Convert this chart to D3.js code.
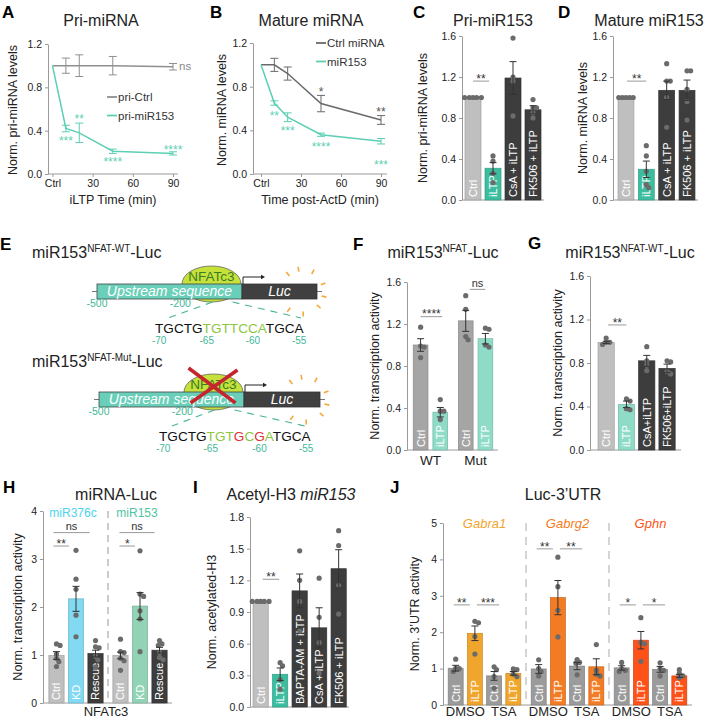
<!DOCTYPE html>
<html>
<head>
<meta charset="utf-8">
<script src="https://cdn.jsdelivr.net/npm/d3@7"></script>
<style>
  body { margin: 0; background: #fff; }
  svg { display: block; font-family: "Liberation Sans", Arial, Helvetica, sans-serif; }
</style>
</head>
<body>
<script>
// ---------- data ----------
// A, B: time courses (min after iLTP / ActD)
const timePts = [0, 10, 20, 45, 90];
const timeTicks = [0, 30, 60, 90];
const priCtrlMean = [1.0, 1.0, 1.0, 1.0, 0.99];
const priCtrlSem = [0, 0.07, 0.1, 0.085, 0.03];
const priMiR153Mean = [1.0, 0.42, 0.38, 0.21, 0.19];
const priMiR153Sem = [0, 0.03, 0.09, 0.02, 0.015];
const starsA = [
  { t: 10, v: 0.33, s: "***", teal: true },
  { t: 20, v: 0.53, s: "**", teal: true },
  { t: 45, v: 0.14, s: "****", teal: true },
  { t: 90, v: 0.25, s: "****", teal: true }
];
const ctrlMiRNAMean = [1.0, 1.0, 0.92, 0.645, 0.495];
const ctrlMiRNASem = [0, 0.06, 0.06, 0.075, 0.04];
const matMiR153Mean = [1.0, 0.65, 0.52, 0.36, 0.30];
const matMiR153Sem = [0, 0.02, 0.04, 0.015, 0.025];
const starsB = [
  { t: 45, v: 0.78, s: "*", teal: false },
  { t: 90, v: 0.59, s: "**", teal: false },
  { t: 10, v: 0.56, s: "**", teal: true },
  { t: 20, v: 0.42, s: "***", teal: true },
  { t: 45, v: 0.27, s: "****", teal: true },
  { t: 90, v: 0.11, s: "***", teal: true }
];

// C: Pri-miR153
const catsC = ["Ctrl", "iLTP", "CsA + iLTP", "FK506 + iLTP"];
const meanC = [1.0, 0.31, 1.19, 0.88];
const semC = [0, 0.055, 0.16, 0.04];
const dotsC = [[1, 1, 1, 1, 1], [0.43, 0.38, 0.26, 0.17], [1.58, 1.2, 1.16, 0.82], [0.98, 0.9, 0.9, 0.85, 0.8]];

// D: Mature miR153
const catsD = ["Ctrl", "iLTP", "CsA + iLTP", "FK506 + iLTP"];
const meanD = [1.0, 0.30, 1.07, 1.07];
const semD = [0, 0.08, 0.09, 0.1];
const dotsD = [[1, 1, 1, 1, 1], [0.53, 0.43, 0.28, 0.15, 0.12], [1.33, 1.16, 1.16, 1.0, 0.71], [1.26, 1.26, 1.08, 0.96, 0.78]];

// E: reporter constructs
const seqWT = "TGCTGTGTTCCATGCA";
const seqMut = "TGCTGTGTGCGATGCA";
const maskWT = "kkkkkgggggggkkkk";
const maskMut = "kkkkkgggrgrgkkkk";
const seqPosLabels = ["-70", "-65", "-60", "-55"];
const seqPosChars = [0, 5, 10, 15];

// F: miR153-NFAT-Luc
const groupsF = ["WT", "Mut"];
const condsF = ["Ctrl", "iLTP"];
const meanF = [1.0, 0.36, 1.23, 1.06];
const semF = [0.06, 0.045, 0.1, 0.05];
const dotsF = [[1.17, 0.99, 0.98, 0.88], [0.48, 0.37, 0.37, 0.29], [1.47, 1.34, 1.08, 1.05], [1.16, 1.15, 1.0, 0.98]];

// G: miR153-NFAT-WT-Luc
const catsG = ["Ctrl", "iLTP", "CsA+iLTP", "FK506+iLTP"];
const meanG = [0.99, 0.42, 0.82, 0.75];
const semG = [0.01, 0.03, 0.05, 0.04];
const dotsG = [[0.97, 0.99, 0.99, 1.03], [0.47, 0.45, 0.38, 0.37], [0.95, 0.82, 0.78, 0.73], [0.82, 0.81, 0.72, 0.7]];

// H: miRNA-Luc, NFATc3 knock-down
const groupsH = ["miR376c", "miR153"];
const condsH = ["Ctrl", "KD", "Rescue"];
const meanH = [0.99, 2.17, 1.03, 0.99, 2.02, 1.10];
const semH = [0.08, 0.26, 0.07, 0.07, 0.28, 0.06];
const dotsH = [
  [1.2, 1.23, 1.02, 0.93, 0.86, 0.76],
  [3.18, 2.58, 2.37, 1.83, 1.38],
  [1.3, 1.17, 1.15, 0.97, 0.9, 0.75],
  [1.33, 1.07, 1.05, 0.93, 0.88, 0.68],
  [3.17, 2.27, 2.22, 1.92, 1.75, 1.07],
  [1.3, 1.23, 1.2, 1.05, 0.95, 0.9]
];

// I: Acetyl-H3 miR153
const catsI = ["Ctrl", "iLTP", "BAPTA-AM + iLTP", "CsA + iLTP", "FK506 + iLTP"];
const meanI = [1.0, 0.31, 1.10, 0.75, 1.31];
const semI = [0, 0.06, 0.16, 0.19, 0.18];
const dotsI = [[1, 1, 1, 1, 1], [0.42, 0.39, 0.26, 0.17], [1.48, 1.2, 1.0, 0.72], [1.22, 0.85, 0.61, 0.32], [1.67, 1.53, 1.15, 0.88]];

// J: Luc-3'UTR
const genesJ = ["Gabra1", "Gabrg2", "Gphn"];
const condsJ = ["Ctrl", "iLTP", "Ctrl", "iLTP"];
const treatJ = ["DMSO", "TSA"];
const meanJ = [1.01, 1.97, 0.80, 0.87, 0.99, 2.95, 1.07, 1.05, 1.02, 1.78, 0.98, 0.80];
const semJ = [0.08, 0.2, 0.12, 0.05, 0.12, 0.47, 0.1, 0.22, 0.06, 0.24, 0.08, 0.04];
const dotsJ = [
  [1.26, 1.01, 1.0, 0.92], [2.26, 2.3, 1.88, 1.4], [1.05, 0.97, 0.78, 0.46], [0.99, 0.97, 0.85, 0.78],
  [1.24, 1.0, 0.92, 0.8], [4.06, 3.25, 2.6, 1.87], [1.25, 1.17, 1.15, 0.83], [1.66, 0.95, 0.85, 0.8],
  [1.17, 1.0, 0.95, 0.92], [2.4, 1.72, 1.68, 1.2], [1.16, 1.0, 0.95, 0.8], [0.97, 0.87, 0.8, 0.75]
];

// ---------- styles ----------
const AX = "#9a9a9a", TXT = "#222", DOT = "#6b6b6b", ERR = "#333";
const TEAL = "#5ccfb4", TEAL_BAR = "#3dbd9f", TEAL_LT = "#8edcc8";
const GRAY_LT = "#bfbfbf", GRAY_MD = "#a5a5a5", GRAY_J = "#9b9b9b", DARK = "#3d3d3d";
const GENE_COL = ["#f0a52c", "#f37b24", "#ff5219"];

const svg = d3.select("body").append("svg").attr("width", 705).attr("height", 720);

function txt(x, y, s, o = {}) {
  const t = svg.append("text").attr("x", x).attr("y", y)
    .attr("font-size", o.size || 12).attr("fill", o.fill || TXT)
    .attr("text-anchor", o.anchor || "start").text(s);
  if (o.weight) t.attr("font-weight", o.weight);
  if (o.italic) t.attr("font-style", "italic");
  return t;
}
function vtxt(cx, cy, s, size, fill) {
  return svg.append("text").attr("transform", `translate(${cx},${cy}) rotate(-90)`)
    .attr("dy", "0.35em").attr("text-anchor", "middle")
    .attr("font-size", size).attr("fill", fill || TXT).text(s);
}
function letter(x, y, s) { txt(x, y, s, { size: 17, weight: "bold", fill: "#000" }); }
function supTitle(x, y, a, b, c, anchor) {
  const t = svg.append("text").attr("x", x).attr("y", y).attr("font-size", 16)
    .attr("fill", TXT).attr("text-anchor", anchor || "middle");
  t.append("tspan").text(a);
  t.append("tspan").attr("font-size", 10).attr("dy", -6).text(b);
  t.append("tspan").attr("dy", 6).text(c);
}
function styleAxis(g) {
  g.attr("font-family", null).attr("font-size", 10.5);
  g.select(".domain").attr("stroke", AX);
  g.selectAll(".tick line").attr("stroke", AX);
  g.selectAll(".tick text").attr("fill", TXT);
}
function stars(x, yc, s, fill) {
  txt(x, yc + 6.8, s, { size: 12, fill: fill, anchor: "middle" });
}

// ---------- line charts (A, B) ----------
function lineChart(o) {
  const x = d3.scaleLinear().domain([0, 90]).range(o.xr);
  const y = d3.scaleLinear().domain([0, 1.2]).range(o.yr);
  svg.append("g").attr("transform", `translate(${o.axX},0)`)
    .call(d3.axisLeft(y).tickValues([0, 0.4, 0.8, 1.2]).tickFormat(d3.format(".1f")).tickSize(3).tickSizeOuter(0))
    .call(styleAxis);
  svg.append("line").attr("x1", o.axX).attr("x2", o.axEnd).attr("y1", y(0)).attr("y2", y(0)).attr("stroke", AX);
  const xa = svg.append("g").attr("transform", `translate(0,${y(0)})`)
    .call(d3.axisBottom(x).tickValues(timeTicks).tickFormat(d => d === 0 ? "Ctrl" : d).tickSize(3).tickSizeOuter(0))
    .call(styleAxis);
  xa.select(".domain").remove();
  o.series.forEach(s => {
    const pts = timePts.map((t, i) => ({ t, m: s.mean[i], e: s.sem[i] }));
    svg.append("path").datum(pts)
      .attr("d", d3.line().x(d => x(d.t)).y(d => y(d.m)))
      .attr("fill", "none").attr("stroke", s.color).attr("stroke-width", 1.5);
    pts.filter(d => d.e > 0).forEach(d => {
      const g = svg.append("g").attr("stroke", s.color).attr("stroke-width", 1);
      g.append("line").attr("x1", x(d.t)).attr("x2", x(d.t)).attr("y1", y(d.m - d.e)).attr("y2", y(d.m + d.e));
      [d.m - d.e, d.m + d.e].forEach(v => g.append("line")
        .attr("x1", x(d.t) - 4).attr("x2", x(d.t) + 4).attr("y1", y(v)).attr("y2", y(v)));
    });
  });
  o.stars.forEach(d => stars(x(d.t), y(d.v), d.s, d.teal ? TEAL : "#555"));
  o.legend.forEach((l, i) => {
    const ly = o.legY + i * 18.5;
    svg.append("line").attr("x1", o.legX).attr("x2", o.legX + 10).attr("y1", ly).attr("y2", ly)
      .attr("stroke", l.color).attr("stroke-width", 1.8);
    txt(o.legX + 11, ly + 4.3, l.name, { size: 11.5, fill: "#333" });
  });
  return { x, y };
}

// ---------- bar charts ----------
function swarm(vals, y, cx) {
  const placed = [];
  const out = new Array(vals.length);
  const minD = 3.6;
  const order = vals.map((v, i) => i).sort((a, b) => vals[b] - vals[a]);
  order.forEach(i => {
    const py = y(vals[i]);
    let px = cx;
    for (let k = 0; k < 30; k++) {
      const off = k === 0 ? 0 : (k % 2 ? 1 : -1) * Math.ceil(k / 2) * 1.2;
      if (placed.every(p => Math.hypot(p[0] - (cx + off), p[1] - py) >= minD)) { px = cx + off; break; }
    }
    placed.push([px, py]);
    out[i] = [px, py];
  });
  return out;
}

function barPanel(p) {
  const y = d3.scaleLinear().domain([0, p.max]).range([p.y0, p.y1]);
  const gx = d3.scaleBand().domain(p.groups).range(p.xr).paddingInner(p.gpi || 0).paddingOuter(p.gpo || 0);
  const cx = d3.scaleBand().domain(d3.range(p.conds.length)).range([0, gx.bandwidth()])
    .paddingInner(p.pi).paddingOuter(p.po);
  const bw = cx.bandwidth();
  const bars = [];
  p.groups.forEach((g, gi) => p.conds.forEach((c, ci) => {
    const k = gi * p.conds.length + ci;
    bars.push({ x: gx(g) + cx(ci), c, m: p.means[k], e: p.sems[k], dots: p.dots[k], fill: p.fills[k] });
  }));

  svg.append("g").attr("transform", `translate(${p.axX},0)`)
    .call(d3.axisLeft(y).tickValues(p.ticks).tickFormat(p.fmt).tickSize(3).tickSizeOuter(0))
    .call(styleAxis);
  svg.append("line").attr("x1", p.axX).attr("x2", p.axEnd).attr("y1", p.y0).attr("y2", p.y0).attr("stroke", AX);

  bars.forEach(b => {
    const c = b.x + bw / 2;
    svg.append("rect").attr("x", b.x).attr("y", y(b.m)).attr("width", bw).attr("height", y(0) - y(b.m))
      .attr("fill", b.fill).attr("stroke", d3.color(b.fill).darker(0.5)).attr("stroke-width", 0.7);
    svg.append("text").attr("transform", `translate(${c},${p.y0 - 3}) rotate(-90)`)
      .attr("dy", "0.36em").attr("font-size", p.lblSize || 11).attr("fill", "#fff").text(b.c);
    swarm(b.dots, y, c).forEach(d => svg.append("circle").attr("cx", d[0]).attr("cy", d[1]).attr("r", 2.6).attr("fill", DOT));
    if (b.e > 0) {
      const g = svg.append("g").attr("stroke", ERR).attr("stroke-width", 1);
      g.append("line").attr("x1", c).attr("x2", c).attr("y1", y(b.m - b.e)).attr("y2", y(b.m + b.e));
      [b.m - b.e, b.m + b.e].forEach(v => g.append("line").attr("x1", c - 3.5).attr("x2", c + 3.5).attr("y1", y(v)).attr("y2", y(v)));
    }
  });
  const center = k => bars[k].x + bw / 2;
  (p.sig || []).forEach(s => {
    const x1 = center(s.a) + s.da, x2 = center(s.b) + s.db, ly = y(s.v);
    svg.append("line").attr("x1", x1).attr("x2", x2).attr("y1", ly).attr("y2", ly).attr("stroke", "#999").attr("stroke-width", 1);
    if (s.s === "ns") txt((x1 + x2) / 2, ly - 2.5, "ns", { size: 11, fill: "#333", anchor: "middle" });
    else stars((x1 + x2) / 2, ly - 5, s.s, "#333");
  });
  return { y, gx, bars, bw, center };
}

// ---------- A ----------
letter(2, 18, "A");
txt(101, 25.5, "Pri-miRNA", { size: 16, anchor: "middle" });
const pa = lineChart({
  xr: [52.5, 173], yr: [174, 44], axX: 48, axEnd: 178,
  series: [
    { mean: priCtrlMean, sem: priCtrlSem, color: "#8f8f8f" },
    { mean: priMiR153Mean, sem: priMiR153Sem, color: TEAL }
  ],
  stars: starsA,
  legend: [{ name: "pri-Ctrl", color: "#8f8f8f" }, { name: "pri-miR153", color: TEAL }],
  legX: 107, legY: 97
});
txt(pa.x(90) + 6, pa.y(1.0) + 4, "ns", { size: 11.5, fill: "#888" });
txt(113, 204, "iLTP Time (min)", { size: 12.5, anchor: "middle" });
vtxt(13, 110, "Norm. pri-miRNA levels", 12.5);

// ---------- B ----------
letter(210, 18, "B");
txt(311, 25.5, "Mature miRNA", { size: 16, anchor: "middle" });
lineChart({
  xr: [261, 381], yr: [174, 43], axX: 253, axEnd: 387,
  series: [
    { mean: ctrlMiRNAMean, sem: ctrlMiRNASem, color: "#6a6a6a" },
    { mean: matMiR153Mean, sem: matMiR153Sem, color: TEAL }
  ],
  stars: starsB,
  legend: [{ name: "Ctrl miRNA", color: "#6a6a6a" }, { name: "miR153", color: TEAL }],
  legX: 316, legY: 43
});
txt(320, 204, "Time post-ActD (min)", { size: 12.5, anchor: "middle" });
vtxt(222, 110, "Norm. miRNA levels", 12.5);

// ---------- C ----------
letter(413, 18, "C");
txt(493, 25.5, "Pri-miR153", { size: 16, anchor: "middle" });
barPanel({
  groups: [""], conds: catsC, means: meanC, sems: semC, dots: dotsC,
  fills: [GRAY_LT, TEAL_BAR, DARK, DARK],
  max: 1.6, y0: 200, y1: 36, ticks: [0, 0.4, 0.8, 1.2, 1.6], fmt: d3.format(".1f"),
  xr: [463, 543], pi: 0.2, po: 0.1, axX: 462, axEnd: 544,
  sig: [{ a: 0, b: 1, da: 0, db: -4, v: 1.16, s: "**" }]
});
vtxt(423, 118, "Norm. pri-miRNA levels", 12.5);

// ---------- D ----------
letter(558, 18, "D");
txt(649, 25.5, "Mature miR153", { size: 16, anchor: "middle" });
barPanel({
  groups: [""], conds: catsD, means: meanD, sems: semD, dots: dotsD,
  fills: [GRAY_LT, TEAL_BAR, DARK, DARK],
  max: 1.6, y0: 200, y1: 36, ticks: [0, 0.4, 0.8, 1.2, 1.6], fmt: d3.format(".1f"),
  xr: [616, 697], pi: 0.22, po: 0.1, axX: 613, axEnd: 698,
  sig: [{ a: 0, b: 1, da: 1, db: 0, v: 1.16, s: "**" }]
});
vtxt(583, 118, "Norm. miRNA levels", 12.5);

// ---------- E ----------
letter(0, 250, "E");
function construct(o) {
  const top = o.top, h = 15, mid = top + h / 2;
  supTitle(32, o.titleY, "miR153", o.sup, "-Luc", "start");
  svg.append("line").attr("x1", o.x0 - 5).attr("x2", o.x2 + 5).attr("y1", mid).attr("y2", mid).attr("stroke", "#777");
  svg.append("ellipse").attr("cx", o.ex).attr("cy", top).attr("rx", 29.5).attr("ry", 18)
    .attr("fill", "#c6e23a").attr("stroke", "#666").attr("stroke-width", 0.8);
  txt(o.ex, top - 3, "NFATc3", { size: 13.5, fill: "#3a7a28", anchor: "middle" });
  svg.append("rect").attr("x", o.x0).attr("y", top).attr("width", o.x1 - o.x0).attr("height", h)
    .attr("fill", "#6acfb9").attr("stroke", "#444").attr("stroke-width", 0.8);
  svg.append("rect").attr("x", o.x1).attr("y", top).attr("width", o.x2 - o.x1).attr("height", h)
    .attr("fill", "#404040").attr("stroke", "#333").attr("stroke-width", 0.8);
  txt((o.x0 + o.x1) / 2, top + 11.5, "Upstream sequence", { size: 14, fill: "#fff", anchor: "middle", italic: true });
  txt((o.x1 + o.x2) / 2, top + 11.5, "Luc", { size: 14, fill: "#fff", anchor: "middle", italic: true });
  // TSS arrow
  svg.append("path").attr("d", `M${o.x1 + 1},${top} V${top - 7} H${o.x1 + 20}`).attr("fill", "none").attr("stroke", "#222").attr("stroke-width", 1);
  svg.append("path").attr("d", `M${o.x1 + 23},${top - 7} l-4,-2.2 v4.4 z`).attr("fill", "#222");
  // light rays
  const rc = [o.x2 - 15, mid];
  [-129, -99, -61, -20, 13, 42, 87, 126].forEach(a => {
    const r = a * Math.PI / 180;
    svg.append("line")
      .attr("x1", rc[0] + 20 * Math.cos(r)).attr("y1", rc[1] + 20 * Math.sin(r))
      .attr("x2", rc[0] + 25 * Math.cos(r)).attr("y2", rc[1] + 25 * Math.sin(r))
      .attr("stroke", "#f3a93a").attr("stroke-width", 1.6);
  });
  txt(o.x0, top + 23, "-500", { size: 10.5, fill: "#3fb898", anchor: "middle" });
  txt(o.x0 + (o.x1 - o.x0) * 0.575, top + 23, "-200", { size: 10.5, fill: "#3fb898", anchor: "middle" });
  const dash = g => g.attr("stroke", "#47b58f").attr("stroke-width", 1.1).attr("stroke-dasharray", "7,6");
  svg.append("line").attr("x1", o.ex + 1).attr("y1", top + 18).attr("x2", o.seqX + 13).attr("y2", top + 34).call(dash);
  svg.append("line").attr("x1", o.ex + 21).attr("y1", top + 18).attr("x2", o.seqX + 146).attr("y2", top + 34).call(dash);
  // sequence
  const colMap = { k: "#111", g: "#8cc63f", r: "#e0303a" };
  const st = svg.append("text").attr("x", o.seqX).attr("y", top + 49).attr("font-size", 13.6);
  o.seq.split("").forEach((ch, i) => st.append("tspan").attr("fill", colMap[o.mask[i]]).text(ch));
  const node = st.node();
  seqPosChars.forEach((ci, j) => {
    const ext = node.getExtentOfChar(ci);
    txt(ext.x + ext.width / 2, top + 60, seqPosLabels[j], { size: 10, fill: "#3fb898", anchor: "middle" });
  });
  if (o.mut) {
    const g = svg.append("g").attr("stroke", "#c4262e").attr("stroke-width", 3.6);
    g.append("line").attr("x1", o.ex - 25).attr("y1", top - 24).attr("x2", o.ex + 22).attr("y2", top + 11);
    g.append("line").attr("x1", o.ex + 24).attr("y1", top - 22).attr("x2", o.ex - 23).attr("y2", top + 11);
  }
}
construct({ titleY: 258, sup: "NFAT-WT", top: 284, x0: 97, x1: 242, x2: 317, ex: 211.5, seqX: 155, seq: seqWT, mask: maskWT });
construct({ titleY: 367, sup: "NFAT-Mut", top: 392, x0: 99, x1: 244, x2: 320, ex: 213.5, seqX: 159, seq: seqMut, mask: maskMut, mut: true });

// ---------- F ----------
letter(353, 250, "F");
supTitle(443, 258, "miR153", "NFAT", "-Luc");
const pf = barPanel({
  groups: groupsF, conds: condsF, means: meanF, sems: semF, dots: dotsF,
  fills: [GRAY_MD, TEAL_LT, GRAY_MD, TEAL_LT],
  max: 1.6, y0: 450, y1: 282, ticks: [0, 0.4, 0.8, 1.2, 1.6], fmt: d3.format(".1f"),
  xr: [409, 497], gpi: 0.15, gpo: 0.05, pi: 0.25, po: 0.1, axX: 407, axEnd: 498,
  sig: [{ a: 0, b: 1, da: 0, db: 2, v: 1.27, s: "****" }, { a: 2, b: 3, da: 4, db: 0, v: 1.53, s: "ns" }]
});
groupsF.forEach(g => txt(pf.gx(g) + pf.gx.bandwidth() / 2, 465, g, { size: 13.5, anchor: "middle" }));
vtxt(375, 366, "Norm. transcription activity", 12.5);

// ---------- G ----------
letter(528, 249, "G");
supTitle(630, 258, "miR153", "NFAT-WT", "-Luc");
barPanel({
  groups: [""], conds: catsG, means: meanG, sems: semG, dots: dotsG,
  fills: [GRAY_LT, TEAL_LT, DARK, DARK],
  max: 1.6, y0: 450, y1: 276, ticks: [0, 0.4, 0.8, 1.2, 1.6], fmt: d3.format(".1f"),
  xr: [596, 677.2], pi: 0.2, po: 0.1, axX: 590, axEnd: 681,
  sig: [{ a: 0, b: 1, da: 2, db: 0, v: 1.15, s: "**" }]
});
vtxt(558, 363, "Norm. transcription activity", 12.5);

// ---------- H ----------
letter(3, 493, "H");
txt(116, 500, "miRNA-Luc", { size: 16, anchor: "middle" });
const ph = barPanel({
  groups: groupsH, conds: condsH, means: meanH, sems: semH, dots: dotsH,
  fills: [GRAY_LT, "#82d9f2", DARK, GRAY_LT, "#92d3b5", DARK],
  max: 4, y0: 703, y1: 511, ticks: [0, 1, 2, 3, 4], fmt: d3.format("d"),
  xr: [44, 172], pi: 0.22, po: 0.25, axX: 43, axEnd: 172,
  sig: [
    { a: 0, b: 2, da: -3, db: -6, v: 3.55, s: "ns" }, { a: 0, b: 1, da: -3, db: -7, v: 3.27, s: "**" },
    { a: 3, b: 5, da: -1, db: -5, v: 3.55, s: "ns" }, { a: 3, b: 4, da: -1, db: -5, v: 3.27, s: "*" }
  ]
});
svg.append("line").attr("x1", ph.gx("miR153")).attr("x2", ph.gx("miR153")).attr("y1", ph.y(4)).attr("y2", ph.y(0))
  .attr("stroke", "#999").attr("stroke-dasharray", "7,5");
[["miR376c", "#4dd3ee"], ["miR153", "#4fc4a2"]].forEach(([g, c]) =>
  txt(ph.gx(g) + ph.gx.bandwidth() / 2 - 3, 516.5, g, { size: 12, fill: c, anchor: "middle" }));
txt(106, 716, "NFATc3", { size: 13, anchor: "middle" });
vtxt(18, 607, "Norm. transcription activity", 12.5);

// ---------- I ----------
letter(193, 493, "I");
const ti = svg.append("text").attr("x", 291).attr("y", 500).attr("font-size", 16).attr("fill", TXT).attr("text-anchor", "middle");
ti.append("tspan").text("Acetyl-H3 ");
ti.append("tspan").attr("font-style", "italic").text("miR153");
barPanel({
  groups: [""], conds: catsI, means: meanI, sems: semI, dots: dotsI,
  fills: [GRAY_LT, TEAL_BAR, DARK, DARK, DARK],
  max: 1.8, y0: 707, y1: 517, ticks: [0, 0.3, 0.6, 0.9, 1.2, 1.5, 1.8], fmt: d3.format(".1f"),
  xr: [250.7, 348.6], pi: 0.22, po: 0.12, axX: 250, axEnd: 349,
  sig: [{ a: 0, b: 1, da: 2, db: -1, v: 1.21, s: "**" }]
});
vtxt(212, 612, "Norm. acetylated-H3", 12.5);

// ---------- J ----------
letter(390, 493, "J");
txt(563, 500, "Luc-3\u2019UTR", { size: 16, anchor: "middle" });
const pj = barPanel({
  groups: genesJ, conds: condsJ, means: meanJ, sems: semJ, dots: dotsJ,
  fills: genesJ.flatMap((g, i) => [GRAY_J, GENE_COL[i], GRAY_J, GENE_COL[i]]),
  max: 5, y0: 705, y1: 523, ticks: [0, 1, 2, 3, 4, 5], fmt: d3.format("d"),
  xr: [443, 692], pi: 0.22, po: 0.27, axX: 443, axEnd: 692,
  sig: [
    { a: 0, b: 1, da: -2, db: -5, v: 2.75, s: "**" }, { a: 1, b: 2, da: 2, db: 5, v: 2.75, s: "***" },
    { a: 4, b: 5, da: -2, db: -5, v: 4.29, s: "**" }, { a: 5, b: 6, da: 2, db: 5, v: 4.29, s: "**" },
    { a: 8, b: 9, da: -2, db: -5, v: 2.75, s: "*" }, { a: 9, b: 10, da: 2, db: 5, v: 2.75, s: "*" }
  ]
});
genesJ.forEach((g, i) => {
  const gx0 = pj.gx(g);
  if (i > 0) svg.append("line").attr("x1", gx0).attr("x2", gx0).attr("y1", pj.y(5)).attr("y2", pj.y(0))
    .attr("stroke", "#aaa").attr("stroke-dasharray", "8,6");
  txt(gx0 + pj.gx.bandwidth() / 2, 528, g, { size: 13, fill: GENE_COL[i], anchor: "middle", italic: true });
  treatJ.forEach((t, j) => {
    const k = i * 4 + j * 2;
    txt((pj.center(k) + pj.center(k + 1)) / 2, 716, t, { size: 13, anchor: "middle" });
  });
});
vtxt(415, 614, "Norm. 3\u2019UTR activity", 12.5);
</script>
</body>
</html>
